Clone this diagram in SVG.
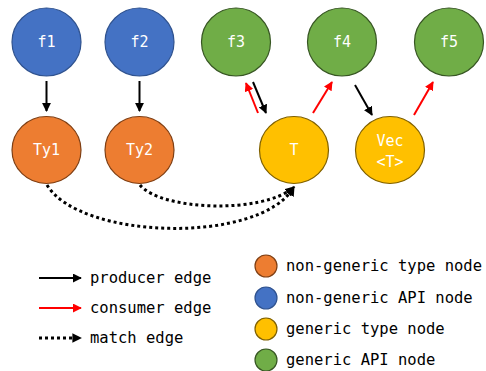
<svg xmlns="http://www.w3.org/2000/svg" width="486" height="371" viewBox="0 0 486 371">
<style>
.n{stroke-width:1.2}
.blue{fill:#4472C4;stroke:#2F528F}
.orange{fill:#ED7D31;stroke:#7F3F14}
.yellow{fill:#FFC000;stroke:#7F6000}
.green{fill:#70AD47;stroke:#375623}
.lbl{font-family:"DejaVu Sans Mono","Liberation Mono",monospace;font-size:15px;fill:#fff;text-anchor:middle}
.leg{font-family:"DejaVu Sans Mono","Liberation Mono",monospace;font-size:15.5px;fill:#000}
.pe{stroke:#000;stroke-width:2;fill:none;marker-end:url(#ab)}
.ce{stroke:#f00;stroke-width:2;fill:none;marker-end:url(#ar)}
.me{stroke:#000;stroke-width:3;stroke-dasharray:3 3;fill:none;marker-end:url(#am)}
</style>
<defs>
<marker id="ab" viewBox="0 0 10 10" refX="9" refY="5" markerWidth="4.5" markerHeight="4.5" orient="auto" markerUnits="strokeWidth"><path d="M0,0L10,5L0,10z" fill="#000"/></marker>
<marker id="ar" viewBox="0 0 10 10" refX="9" refY="5" markerWidth="4.5" markerHeight="4.5" orient="auto" markerUnits="strokeWidth"><path d="M0,0L10,5L0,10z" fill="#f00"/></marker>
<marker id="am" viewBox="0 0 10 10" refX="9" refY="5" markerWidth="3.2" markerHeight="3.2" orient="auto" markerUnits="strokeWidth"><path d="M0,0L10,5L0,10z" fill="#000"/></marker>
</defs>
<g id="connectors">
<line class="pe" x1="46.5" y1="81" x2="46.5" y2="111"/>
<line class="pe" x1="139.5" y1="81" x2="139.5" y2="111"/>
<line class="ce" x1="258" y1="113" x2="246" y2="83"/>
<line class="pe" x1="253" y1="82" x2="266" y2="113"/>
<line class="ce" x1="313" y1="113" x2="332" y2="82"/>
<line class="pe" x1="355" y1="85" x2="372" y2="115"/>
<line class="ce" x1="414" y1="115" x2="433" y2="82"/>
<path class="me" d="M47,185 C80,240 260,245 294,187"/>
<path class="me" d="M140,185 C160,210 262,215 294,187"/>
</g>
<g id="f1"><ellipse class="n blue" cx="46.5" cy="42" rx="34.5" ry="34"/><text class="lbl" x="46.5" y="47">f1</text></g>
<g id="f2"><ellipse class="n blue" cx="139.5" cy="42" rx="34.5" ry="34"/><text class="lbl" x="139.5" y="47">f2</text></g>
<g id="f3"><ellipse class="n green" cx="236" cy="42" rx="34.5" ry="34"/><text class="lbl" x="236" y="47">f3</text></g>
<g id="f4"><ellipse class="n green" cx="342" cy="42" rx="34.5" ry="34"/><text class="lbl" x="342" y="47">f4</text></g>
<g id="f5"><ellipse class="n green" cx="449" cy="42" rx="34.5" ry="34"/><text class="lbl" x="449" y="47">f5</text></g>
<g id="Ty1"><ellipse class="n orange" cx="46.5" cy="150" rx="34.5" ry="33.5"/><text class="lbl" x="46.5" y="155">Ty1</text></g>
<g id="Ty2"><ellipse class="n orange" cx="139.5" cy="150" rx="34.5" ry="33.5"/><text class="lbl" x="139.5" y="155">Ty2</text></g>
<g id="T"><ellipse class="n yellow" cx="294" cy="150" rx="34.5" ry="33.5"/><text class="lbl" x="294" y="155">T</text></g>
<g id="Vec"><ellipse class="n yellow" cx="390" cy="150" rx="34.5" ry="33.5"/><text class="lbl" x="390" y="146">Vec</text><text class="lbl" x="390" y="167">&lt;T&gt;</text></g>
<g id="legend">
<line class="pe" x1="39" y1="278" x2="81" y2="278"/>
<text class="leg" x="90" y="283">producer edge</text>
<line class="ce" x1="39" y1="308" x2="81" y2="308"/>
<text class="leg" x="90" y="313">consumer edge</text>
<line class="me" x1="39" y1="338" x2="81" y2="338"/>
<text class="leg" x="90" y="343">match edge</text>
<circle class="n orange" cx="266" cy="266" r="11"/>
<text class="leg" x="286" y="271">non-generic type node</text>
<circle class="n blue" cx="266" cy="298" r="11"/>
<text class="leg" x="286" y="303">non-generic API node</text>
<circle class="n yellow" cx="266" cy="329" r="11"/>
<text class="leg" x="286" y="334">generic type node</text>
<circle class="n green" cx="266" cy="360" r="11"/>
<text class="leg" x="286" y="365">generic API node</text>
</g>
</svg>
